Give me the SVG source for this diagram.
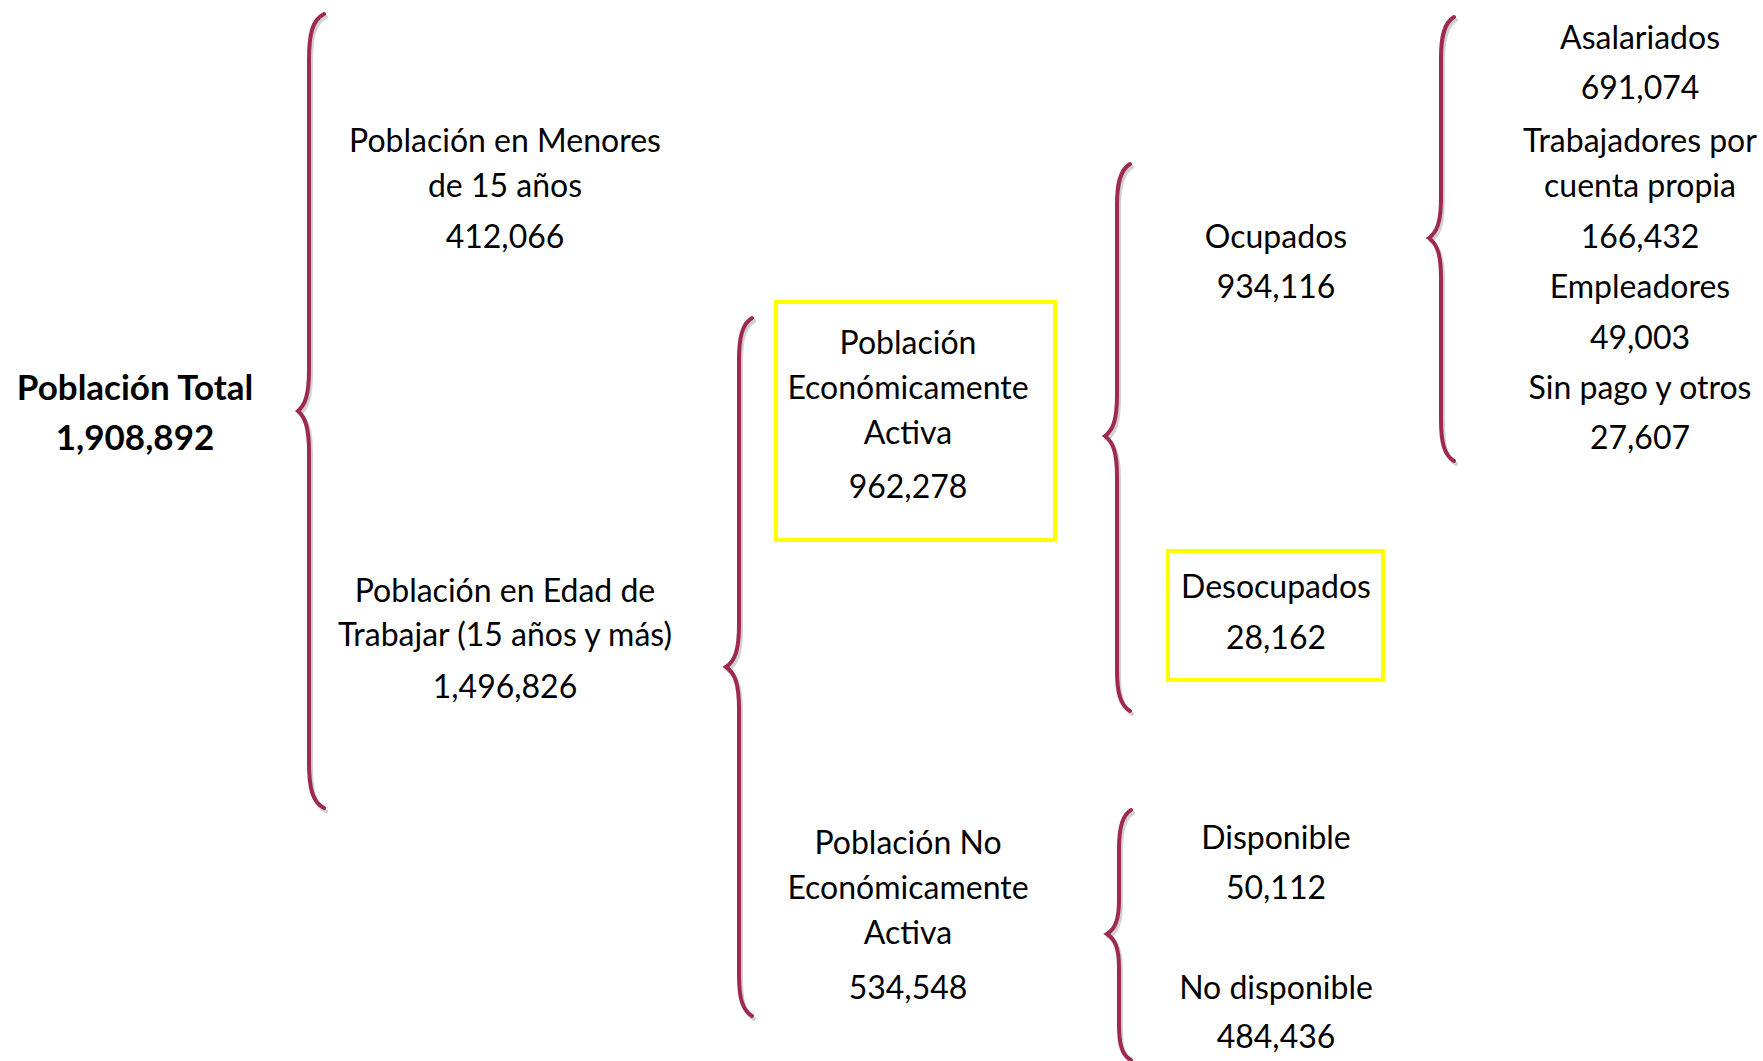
<svg xmlns="http://www.w3.org/2000/svg" width="1763" height="1061" viewBox="0 0 1763 1061">
<style>
.t{font-family:Lato,"Open Sans","Liberation Sans",sans-serif;font-size:32px;fill:#000;text-anchor:middle}
.b{font-weight:bold;font-size:35px}
.br{fill:none;stroke:#9E2A4F;stroke-width:4;stroke-linecap:round}
.sh{fill:none;stroke:#000;stroke-opacity:0.18;stroke-width:4;stroke-linecap:round}
.box{fill:none;stroke:#FFFF00;stroke-width:4}
</style>
<rect width="1763" height="1061" fill="#fff"/>
<g id="connectors">
<path class="sh" transform="translate(2,3)" d="M324,14 C312,20 309,35 309,60 L309,370 C309,395 305,405 298,411 C305,417 309,427 309,452 L309,762 C309,787 312,802 324,808"/>
<path class="br" d="M324,14 C312,20 309,35 309,60 L309,370 C309,395 305,405 298,411 C305,417 309,427 309,452 L309,762 C309,787 312,802 324,808"/>
<path class="sh" transform="translate(2,3)" d="M752,318 C742,324 739,338 739,360 L739,625 C739,650 735,661 726,667 C735,673 739,684 739,709 L739,975 C739,997 742,1010 752,1016"/>
<path class="br" d="M752,318 C742,324 739,338 739,360 L739,625 C739,650 735,661 726,667 C735,673 739,684 739,709 L739,975 C739,997 742,1010 752,1016"/>
<path class="sh" transform="translate(2,3)" d="M1130,164 C1120,170 1117,184 1117,205 L1117,395 C1117,420 1113,430 1105,436 C1113,442 1117,452 1117,477 L1117,670 C1117,692 1120,705 1130,711"/>
<path class="br" d="M1130,164 C1120,170 1117,184 1117,205 L1117,395 C1117,420 1113,430 1105,436 C1113,442 1117,452 1117,477 L1117,670 C1117,692 1120,705 1130,711"/>
<path class="sh" transform="translate(2,3)" d="M1131,810 C1122,815 1119,828 1119,848 L1119,900 C1119,920 1115,929 1107,934 C1115,939 1119,948 1119,968 L1119,1025 C1119,1045 1122,1055 1131,1060"/>
<path class="br" d="M1131,810 C1122,815 1119,828 1119,848 L1119,900 C1119,920 1115,929 1107,934 C1115,939 1119,948 1119,968 L1119,1025 C1119,1045 1122,1055 1131,1060"/>
<path class="sh" transform="translate(2,3)" d="M1454,17 C1444,23 1441,37 1441,58 L1441,198 C1441,222 1437,232 1429,238 C1437,244 1441,254 1441,278 L1441,420 C1441,442 1444,455 1454,461"/>
<path class="br" d="M1454,17 C1444,23 1441,37 1441,58 L1441,198 C1441,222 1437,232 1429,238 C1437,244 1441,254 1441,278 L1441,420 C1441,442 1444,455 1454,461"/>
</g>
<g id="total">
<text class="t b" x="135" y="400">Población Total</text>
<text class="t b" x="135" y="450">1,908,892</text>
</g>
<g id="menores">
<text class="t" x="505" y="152">Población en Menores</text>
<text class="t" x="505" y="197">de 15 años</text>
<text class="t" x="505" y="248">412,066</text>
</g>
<g id="edad">
<text class="t" x="505" y="602">Población en Edad de</text>
<text class="t" x="505" y="646">Trabajar (15 años y más)</text>
<text class="t" x="505" y="698">1,496,826</text>
</g>
<g id="pea">
<rect class="box" x="776" y="302" width="279" height="238"/>
<text class="t" x="908" y="354">Población</text>
<text class="t" x="908" y="399">Económicamente</text>
<text class="t" x="908" y="444">Activa</text>
<text class="t" x="908" y="498">962,278</text>
</g>
<g id="pnea">
<text class="t" x="908" y="854">Población No</text>
<text class="t" x="908" y="899">Económicamente</text>
<text class="t" x="908" y="944">Activa</text>
<text class="t" x="908" y="999">534,548</text>
</g>
<g id="ocupados">
<text class="t" x="1276" y="248">Ocupados</text>
<text class="t" x="1276" y="298">934,116</text>
</g>
<g id="desocupados">
<rect class="box" x="1168" y="551" width="215" height="129"/>
<text class="t" x="1276" y="598">Desocupados</text>
<text class="t" x="1276" y="649">28,162</text>
</g>
<g id="disponible">
<text class="t" x="1276" y="849">Disponible</text>
<text class="t" x="1276" y="899">50,112</text>
</g>
<g id="nodisponible">
<text class="t" x="1276" y="999">No disponible</text>
<text class="t" x="1276" y="1048">484,436</text>
</g>
<g id="asalariados">
<text class="t" x="1640" y="49">Asalariados</text>
<text class="t" x="1640" y="99">691,074</text>
</g>
<g id="cuentapropia">
<text class="t" x="1640" y="152">Trabajadores por</text>
<text class="t" x="1640" y="197">cuenta propia</text>
<text class="t" x="1640" y="248">166,432</text>
</g>
<g id="empleadores">
<text class="t" x="1640" y="298">Empleadores</text>
<text class="t" x="1640" y="349">49,003</text>
</g>
<g id="sinpago">
<text class="t" x="1640" y="399">Sin pago y otros</text>
<text class="t" x="1640" y="449">27,607</text>
</g>
</svg>
